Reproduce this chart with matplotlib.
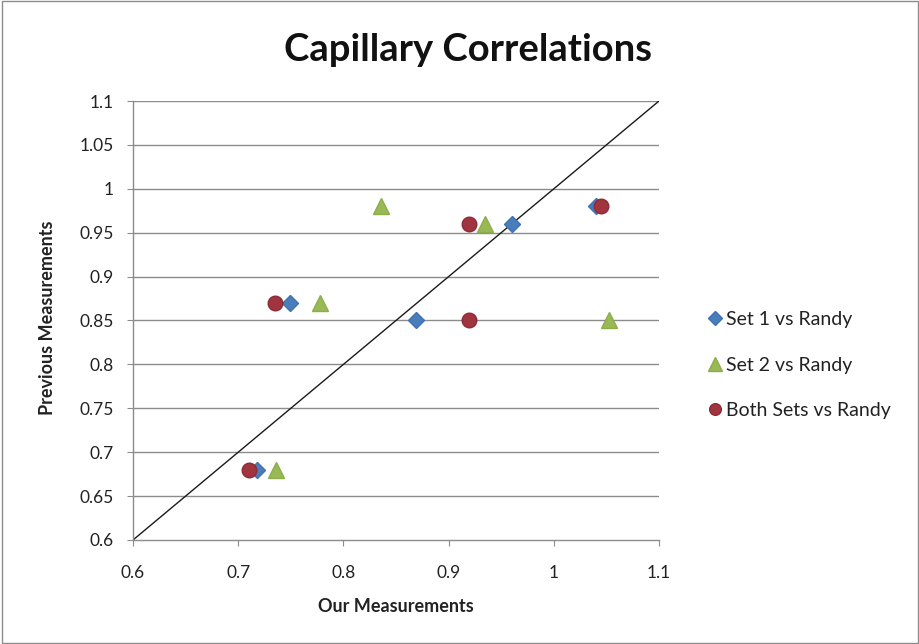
import matplotlib
matplotlib.use("Agg")
import matplotlib.pyplot as plt
from matplotlib.patches import Rectangle

plt.rcParams['font.family'] = ['Lato', 'DejaVu Sans']

# Series data
set1_x = [0.718, 0.749, 0.869, 0.960, 1.040]
set1_y = [0.68, 0.87, 0.85, 0.96, 0.98]

set2_x = [0.736, 0.778, 0.836, 0.935, 1.052]
set2_y = [0.68, 0.87, 0.98, 0.96, 0.85]

both_x = [0.710, 0.735, 0.919, 0.919, 1.045]
both_y = [0.68, 0.87, 0.96, 0.85, 0.98]

series_names = ["Set 1 vs Randy", "Set 2 vs Randy", "Both Sets vs Randy"]
x_ticks = [0.6, 0.7, 0.8, 0.9, 1.0, 1.1]
x_tick_labels = ["0.6", "0.7", "0.8", "0.9", "1", "1.1"]
y_ticks = [0.6, 0.65, 0.7, 0.75, 0.8, 0.85, 0.9, 0.95, 1.0, 1.05, 1.1]
y_tick_labels = ["0.6", "0.65", "0.7", "0.75", "0.8", "0.85", "0.9", "0.95", "1", "1.05", "1.1"]

W, H = 920, 644
fig = plt.figure(figsize=(W / 100, H / 100), dpi=100)
fig.patch.set_facecolor("white")
fig.add_artist(Rectangle((0.002, 0.002), 0.996, 0.996, transform=fig.transFigure,
                         fill=False, edgecolor="#8c8c8c", linewidth=1.0))

ax = fig.add_axes([133 / W, 1 - 540 / H, 526 / W, 439 / H])
ax.set_xlim(0.6, 1.1)
ax.set_ylim(0.6, 1.1)

for yv in y_ticks[1:]:
    ax.axhline(yv, color="#8c8c8c", linewidth=1.0, zorder=1)

ax.plot([0.6, 1.1], [0.6, 1.1], color="#1a1a1a", linewidth=1.0, zorder=2)

ax.plot(set1_x, set1_y, linestyle="none", marker="D", markersize=8.5,
        color="#4A7EBB", markeredgecolor="#3F72B0", label=series_names[0], zorder=3)
ax.plot(set2_x, set2_y, linestyle="none", marker="^", markersize=12,
        color="#98B954", markeredgecolor="#8DAE4A", label=series_names[1], zorder=4)
ax.plot(both_x, both_y, linestyle="none", marker="o", markersize=10.5,
        color="#A0343F", markeredgecolor="#8E2A35", label=series_names[2], zorder=5)

ax.set_xticks(x_ticks)
ax.set_xticklabels(x_tick_labels)
ax.set_yticks(y_ticks)
ax.set_yticklabels(y_tick_labels)
ax.tick_params(axis="both", direction="out", length=4, color="#8c8c8c",
               labelsize=12.5, labelcolor="#222222")
ax.tick_params(axis="x", pad=14)
ax.tick_params(axis="y", pad=10)

for side in ["top", "right"]:
    ax.spines[side].set_visible(False)
for side in ["left", "bottom"]:
    ax.spines[side].set_color("#8c8c8c")
    ax.spines[side].set_linewidth(1.0)

fig.text(396 / W, 1 - 606 / H, "Our Measurements", fontsize=13, fontweight="bold",
         color="#222222", ha="center", va="center")
fig.text(48 / W, 1 - 318 / H, "Previous Measurements", fontsize=13, fontweight="bold",
         color="#222222", ha="center", va="center", rotation=90)

fig.text(468 / W, 1 - 50 / H, "Capillary Correlations", fontsize=27.5,
         fontweight="bold", ha="center", va="center", color="#111111")

leg = ax.legend(loc="center left", bbox_to_anchor=(1.08, (540 - 365) / 439), frameon=False,
                fontsize=14, handlelength=0.6, handletextpad=0.3, labelspacing=1.48,
                markerscale=0.8, borderaxespad=0)
for t in leg.get_texts():
    t.set_color("#222222")

fig.savefig("out.png", dpi=100)
